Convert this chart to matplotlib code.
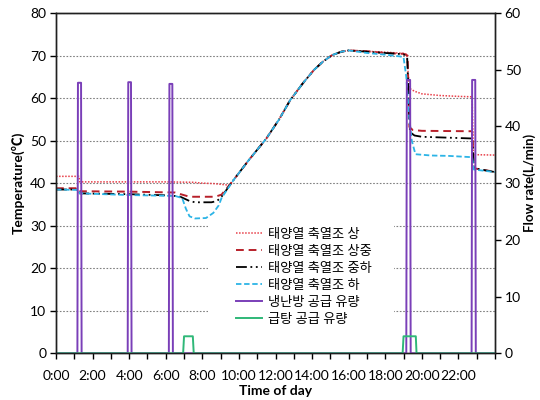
import matplotlib
matplotlib.use("Agg")
import matplotlib.pyplot as plt
from matplotlib.patches import Rectangle
from matplotlib.ticker import MultipleLocator, FuncFormatter

plt.rcParams['font.family'] = ['Lato', 'Noto Sans CJK KR', 'DejaVu Sans']

# ---- data (hours of day) ----
ramp_t = [9.7, 10.5, 11.5, 12.2, 12.8, 13.5, 14.1, 14.6, 15.1, 15.6, 16.0]
ramp_v = [40.7, 45.2, 50.5, 55.0, 59.5, 63.5, 66.6, 68.6, 70.1, 70.9, 71.2]

t_top = [0, 1.25, 1.3, 4, 6, 7.5, 8.0, 8.6, 9.3, 9.5] + ramp_t + \
        [17.0, 18.0, 19.0, 19.18, 19.25, 19.32, 19.6, 20.0, 21.0, 22.0, 22.75, 22.82, 24.0]
v_top = [41.6, 41.6, 40.3, 40.3, 40.3, 40.2, 40.0, 39.9, 39.6, 39.6] + ramp_v + \
        [71.0, 70.8, 70.5, 70.3, 66.0, 62.3, 61.6, 61.0, 60.6, 60.4, 60.3, 46.7, 46.6]

t_upmid = [0, 1.25, 1.3, 4, 6.5, 6.9, 7.3, 8.0, 8.7, 9.05] + ramp_t + \
          [17.0, 18.0, 19.0, 19.22, 19.32, 19.5, 20.0, 22.75, 22.85, 23.5, 24.0]
v_upmid = [38.8, 38.8, 38.1, 38.0, 37.8, 37.3, 36.8, 36.8, 36.8, 37.3] + ramp_v + \
           [71.0, 70.6, 70.4, 70.0, 53.2, 52.5, 52.3, 52.2, 43.5, 43.0, 42.7]

t_midlow = [0, 1.25, 1.3, 4, 6.3, 6.8, 7.3, 7.6, 8.5, 8.8, 9.05] + ramp_t + \
           [17.0, 18.0, 19.0, 19.2, 19.28, 19.35, 19.6, 20.0, 22.75, 22.85, 24.0]
v_midlow = [38.5, 38.5, 37.6, 37.4, 37.1, 36.8, 35.8, 35.5, 35.5, 35.8, 36.8] + ramp_v + \
            [70.9, 70.6, 70.3, 69.5, 60.0, 52.0, 51.2, 50.9, 50.5, 43.5, 42.6]

t_low = [0, 1.25, 1.3, 4, 6.5, 6.9, 7.1, 7.3, 7.6, 8.2, 8.6, 8.9, 9.05] + ramp_t + \
        [17.0, 18.0, 18.8, 19.0, 19.15, 19.3, 19.45, 19.65, 20.5, 21.5, 22.75, 22.85, 24.0]
v_low = [38.5, 38.4, 37.6, 37.2, 37.0, 36.5, 34.0, 32.2, 31.7, 31.8, 33.0, 34.8, 36.5] + ramp_v + \
         [70.6, 70.2, 69.8, 69.6, 65.0, 56.0, 50.0, 46.8, 46.5, 46.4, 46.1, 43.2, 42.6]

t_hvac = [0, 1.17, 1.2, 1.37, 1.4, 3.92, 3.95, 4.1, 4.13, 6.17, 6.2, 6.36, 6.39,
          19.15, 19.18, 19.36, 19.39, 22.72, 22.75, 22.92, 22.95, 24]
v_hvac = [0, 0, 47.7, 47.7, 0, 0, 47.8, 47.8, 0, 0, 47.5, 47.5, 0,
          0, 48.2, 48.2, 0, 0, 48.2, 48.2, 0, 0]

t_dhw = [0, 6.95, 7.0, 7.48, 7.53, 18.95, 19.0, 19.67, 19.71, 24]
v_dhw = [0, 0, 3.0, 3.0, 0, 0, 3.0, 3.0, 0, 0]

labels = ['태양열 축열조 상', '태양열 축열조 상중', '태양열 축열조 중하',
          '태양열 축열조 하', '냉난방 공급 유량', '급탕 공급 유량']

fig = plt.figure(figsize=(5.4, 4.0), dpi=100)
ax = fig.add_axes([56 / 540, 1 - 353.3 / 400, 439 / 540, 340.3 / 400])
ax2 = ax.twinx()

ax.set_axisbelow(True)
ax.grid(axis='y', color='#808080', linestyle=(0, (1.5, 1.5)), linewidth=0.8)
ax.add_patch(Rectangle((0.346, 0.051), 0.424, 0.335, transform=ax.transAxes,
                       facecolor='white', edgecolor='none', zorder=1))

l1, = ax.plot(t_top, v_top, color='#e8404a', linestyle=(0, (1, 1)), lw=1.1, zorder=2)
l2, = ax.plot(t_upmid, v_upmid, color='#b8202a', linestyle=(0, (4, 2.5)), lw=1.4, zorder=2)
l3, = ax.plot(t_midlow, v_midlow, color='black', linestyle=(0, (6, 2, 1, 2, 1, 2)), lw=1.3, zorder=2)
l4, = ax.plot(t_low, v_low, color='#2cb4e6', linestyle=(0, (3, 1.5)), lw=1.3, zorder=2)
l5, = ax2.plot(t_hvac, v_hvac, color='#7a3fb8', lw=1.4, solid_joinstyle='round')
l6, = ax2.plot(t_dhw, v_dhw, color='#2fb878', lw=1.4)

ax.set_xlim(0, 24)
ax.set_ylim(0, 80)
ax2.set_ylim(0, 60)
ax.xaxis.set_major_locator(MultipleLocator(2))
ax.xaxis.set_minor_locator(MultipleLocator(1))
ax.set_xticks(range(0, 23, 2))
ax.xaxis.set_major_formatter(FuncFormatter(lambda v, p: f"{int(v)}:00"))
ax.yaxis.set_major_locator(MultipleLocator(10))
ax2.yaxis.set_major_locator(MultipleLocator(10))

for a in (ax, ax2):
    for s in a.spines.values():
        s.set_linewidth(1.0)
        s.set_color('#202020')
ax.tick_params(axis='both', which='both', direction='out', length=4, width=1, labelsize=10, pad=3)
ax.tick_params(axis='x', which='both', pad=8)
ax2.tick_params(axis='y', direction='out', length=4, width=1, labelsize=10, pad=3)

ax.set_xlabel('Time of day', fontsize=10, fontweight='bold', labelpad=2)
ax.set_ylabel('Temperature(℃)', fontsize=10, fontweight='bold', labelpad=4)
ax2.set_ylabel('Flow rate(L/min)', fontsize=9.5, fontweight='bold', labelpad=2)

ax2.legend([l1, l2, l3, l4, l5, l6], labels, loc='upper left',
           bbox_to_anchor=(236 / 540, 1 - 228 / 400), bbox_transform=fig.transFigure,
           frameon=False, fontsize=9.5, borderpad=0, borderaxespad=0,
           handlelength=2.0, handletextpad=0.4, labelspacing=0.38)

fig.savefig('out.png', dpi=100)
